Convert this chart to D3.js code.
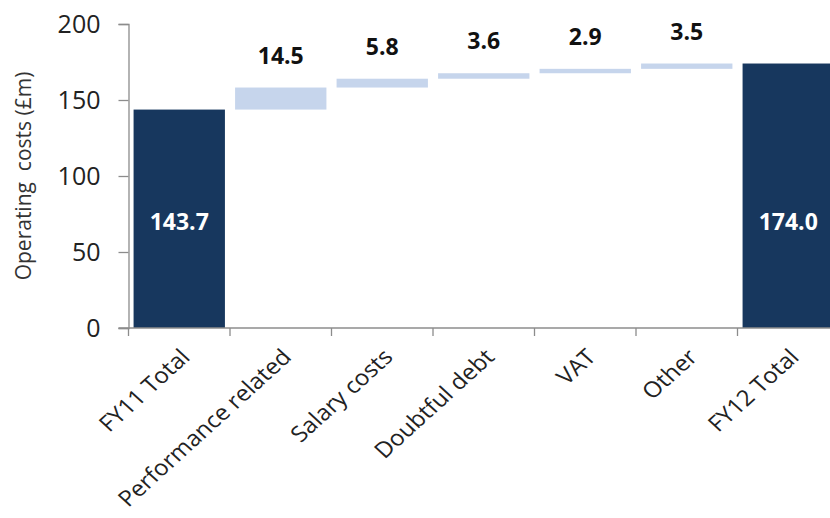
<!DOCTYPE html>
<html>
<head>
<meta charset="utf-8">
<script src="https://cdn.jsdelivr.net/npm/d3@7"></script>
<style>
  body { margin: 0; background: #fff; }
  svg { display: block; }
</style>
</head>
<body>
<div id="chart"></div>
<script>
// categories and values (£m)
const categories = ["FY11 Total", "Performance related", "Salary costs", "Doubtful debt", "VAT", "Other", "FY12 Total"];
const changes = [143.7, 14.5, 5.8, 3.6, 2.9, 3.5, 174.0];
const isTotal = [true, false, false, false, false, false, true];
const yTicks = [0, 50, 100, 150, 200];

const width = 830, height = 518;
const dark = "#17375e", light = "#c6d5ec", axisColor = "#8c8c8c";

// build waterfall rows
let running = 0;
const rows = categories.map((c, i) => {
  let start, end;
  if (isTotal[i]) { start = 0; end = changes[i]; running = changes[i]; }
  else { start = running; end = running + changes[i]; running = end; }
  return { name: c, value: changes[i], start, end, total: isTotal[i] };
});

const x = d3.scaleBand()
  .domain(categories)
  .range([128.5, 128.5 + 7 * 101.5])
  .paddingInner(0.1)
  .paddingOuter(0.05);

const y = d3.scaleLinear().domain([0, 200]).range([328, 24]);

const svg = d3.create("svg").attr("width", width).attr("height", height);

// bars
svg.append("g")
  .selectAll("rect")
  .data(rows)
  .join("rect")
  .attr("x", d => x(d.name))
  .attr("width", x.bandwidth())
  .attr("y", d => y(d.end))
  .attr("height", d => y(d.start) - y(d.end))
  .attr("fill", d => d.total ? dark : light);

// y axis
const yAxis = svg.append("g")
  .attr("transform", `translate(${x.range()[0]},0)`)
  .call(d3.axisLeft(y).tickValues(yTicks).tickSize(10).tickPadding(18));
yAxis.select(".domain").attr("stroke", axisColor).attr("stroke-width", 1.3);
yAxis.selectAll(".tick line").attr("stroke", axisColor).attr("stroke-width", 1.3);
yAxis.selectAll(".tick text")
  .attr("font-family", "'Open Sans', sans-serif")
  .attr("font-size", 25)
  .attr("fill", "#222");

// x axis line and category boundary ticks
const x0 = x.range()[0];
const step = x.step();
svg.append("line")
  .attr("x1", x0 - 10).attr("x2", width)
  .attr("y1", y(0)).attr("y2", y(0))
  .attr("stroke", axisColor).attr("stroke-width", 1.3);
svg.append("g")
  .selectAll("line")
  .data(d3.range(categories.length + 1))
  .join("line")
  .attr("x1", i => x0 + i * step).attr("x2", i => x0 + i * step)
  .attr("y1", y(0)).attr("y2", y(0) + 8)
  .attr("stroke", axisColor).attr("stroke-width", 1.3);

// x labels, rotated (slightly stretched like the source image)
svg.append("g")
  .attr("font-family", "'Open Sans', sans-serif")
  .attr("font-size", 22)
  .attr("fill", "#222")
  .attr("text-anchor", "end")
  .selectAll("text")
  .data(categories)
  .join("text")
  .attr("transform", d => `translate(${x(d) + x.bandwidth() / 2 + 6},${y(0) + 25}) scale(1.1,1) rotate(-45)`)
  .attr("dy", "0.35em")
  .text(d => d);

// y axis title
svg.append("text")
  .attr("transform", `translate(24,${(y(0) + y(200)) / 2}) rotate(-90)`)
  .attr("text-anchor", "middle")
  .attr("dy", "0.35em")
  .attr("font-family", "'Open Sans', sans-serif")
  .attr("font-size", 21)
  .attr("fill", "#333")
  .attr("xml:space", "preserve")
  .text("Operating  costs (£m)");

// value labels
const totalMid = y(d3.min(rows.filter(d => d.total), d => d.value) / 2);
svg.append("g")
  .attr("font-family", "'Open Sans', sans-serif")
  .attr("font-weight", "bold")
  .attr("font-size", 23)
  .attr("text-anchor", "middle")
  .selectAll("text")
  .data(rows)
  .join("text")
  .attr("x", d => x(d.name) + x.bandwidth() / 2)
  .attr("y", d => d.total ? totalMid + 3 : y(d.end) - 24)
  .attr("dy", d => d.total ? "0.35em" : 0)
  .attr("fill", d => d.total ? "#fff" : "#111")
  .text(d => d.value.toFixed(1));

d3.select("#chart").node().appendChild(svg.node());
</script>
</body>
</html>
